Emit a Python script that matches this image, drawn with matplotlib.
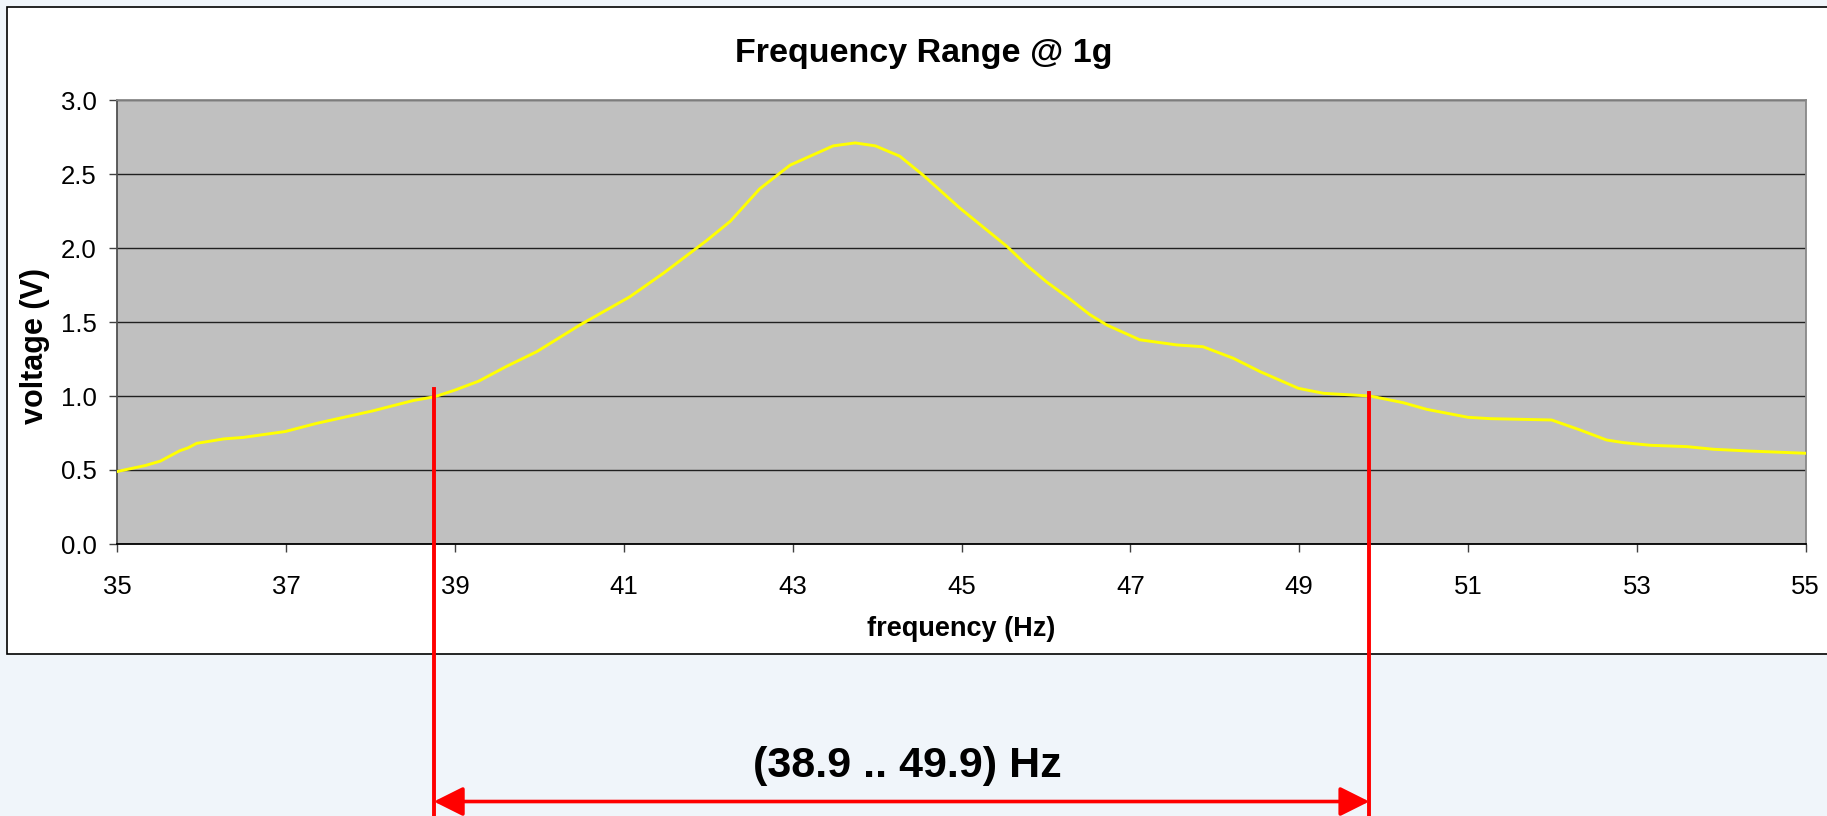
import matplotlib
matplotlib.use('Agg')
import matplotlib.pyplot as plt
from matplotlib.patches import Rectangle
from matplotlib.ticker import FormatStrFormatter

plt.rcParams['font.family'] = ['Liberation Sans', 'DejaVu Sans']

# measured curve: frequency (Hz) vs voltage (V)
freq = [35.0, 35.33, 35.51, 35.74, 35.84, 35.94, 36.26, 36.49, 36.99, 37.36,
        38.03, 38.51, 38.76, 39.0, 39.28, 39.61, 39.97, 40.48, 41.07, 41.47,
        41.98, 42.26, 42.61, 42.97, 43.48, 43.74, 43.98, 44.27, 44.55, 44.98,
        45.26, 45.54, 45.77, 46.01, 46.25, 46.52, 46.72, 47.11, 47.55, 47.86,
        48.22, 48.54, 48.99, 49.29, 49.84, 50.23, 50.51, 51.0, 51.26, 51.99,
        52.33, 52.64, 52.84, 53.16, 53.59, 53.91, 54.34, 55.0]
volt = [0.49, 0.53, 0.56, 0.63, 0.65, 0.68, 0.71, 0.72, 0.76, 0.815,
        0.90, 0.97, 0.995, 1.04, 1.10, 1.20, 1.30, 1.48, 1.67, 1.83,
        2.05, 2.18, 2.40, 2.56, 2.69, 2.71, 2.69, 2.62, 2.49, 2.27,
        2.14, 2.01, 1.885, 1.77, 1.67, 1.55, 1.48, 1.38, 1.345, 1.333,
        1.255, 1.164, 1.052, 1.018, 1.0, 0.955, 0.91, 0.856, 0.847, 0.838,
        0.77, 0.703, 0.685, 0.667, 0.658, 0.64, 0.628, 0.613]

xticks = list(range(35, 56, 2))
yticks = [0.0, 0.5, 1.0, 1.5, 2.0, 2.5, 3.0]

# band markers (where the red lines sit) and the label
band_lo = 38.75
band_hi = 49.83
band_text = '(38.9 .. 49.9) Hz'

W, H = 1827, 816
fig = plt.figure(figsize=(W / 100, H / 100), dpi=100, facecolor='#f0f5fa')

# white chart area with black frame
box = Rectangle((7 / W, 1 - 653.5 / H), (1845 - 7) / W, (653.5 - 6.5) / H,
                transform=fig.transFigure, facecolor='white',
                edgecolor='black', lw=1.2, zorder=-1)
fig.add_artist(box)

ax = fig.add_axes([117.3 / W, 1 - 544 / H, (1805.7 - 117.3) / W, 444 / H])
ax.set_facecolor('#c0c0c0')

ax.plot(freq, volt, color='#ffff00', lw=2.1, zorder=3)

ax.set_xlim(35, 55)
ax.set_ylim(0, 3)
ax.set_xticks(xticks)
ax.set_yticks(yticks)
ax.yaxis.set_major_formatter(FormatStrFormatter('%.1f'))
ax.yaxis.grid(True, color='#202020', lw=1.0)
ax.set_axisbelow(True)

for s in ['top', 'right']:
    ax.spines[s].set_color('#888888')
    ax.spines[s].set_linewidth(1.3)
ax.spines['left'].set_color('#505050')
ax.spines['left'].set_linewidth(1.3)
ax.spines['bottom'].set_color('black')
ax.spines['bottom'].set_linewidth(1.3)

ax.tick_params(axis='y', direction='out', length=6, width=1.0, color='#404040',
               labelsize=18.5, pad=9)
ax.tick_params(axis='x', direction='out', length=6, width=1.0, color='#404040',
               labelsize=18.5, pad=16)

fig.text(923.5 / W, 1 - 61.7 / H, 'Frequency Range @ 1g', fontsize=24.5,
         fontweight='bold', ha='center', va='baseline')
fig.text(961 / W, 1 - 636 / H, 'frequency (Hz)', fontsize=19.5,
         fontweight='bold', ha='center', va='baseline')
fig.text(35 / W, 1 - 346 / H, 'voltage (V)', fontsize=22, fontweight='bold',
         rotation=90, ha='center', va='center')

# red band markers
ax.plot([band_lo, band_lo], [1.045, -1.95], color='red', lw=2.8,
        clip_on=False, zorder=5)
ax.plot([band_hi, band_hi], [1.02, -1.95], color='red', lw=2.8,
        clip_on=False, zorder=5)
ax.annotate('', xy=(band_lo, -1.74), xytext=(band_hi, -1.74),
            arrowprops=dict(arrowstyle='<|-|>', color='red', lw=2.6,
                            mutation_scale=45, shrinkA=0, shrinkB=0),
            annotation_clip=False)
ax.text((band_lo + band_hi) / 2 + 0.07, -1.575, band_text, fontsize=31,
        fontweight='bold', ha='center', va='baseline', clip_on=False)

fig.savefig('out.png', dpi=100, facecolor=fig.get_facecolor())
